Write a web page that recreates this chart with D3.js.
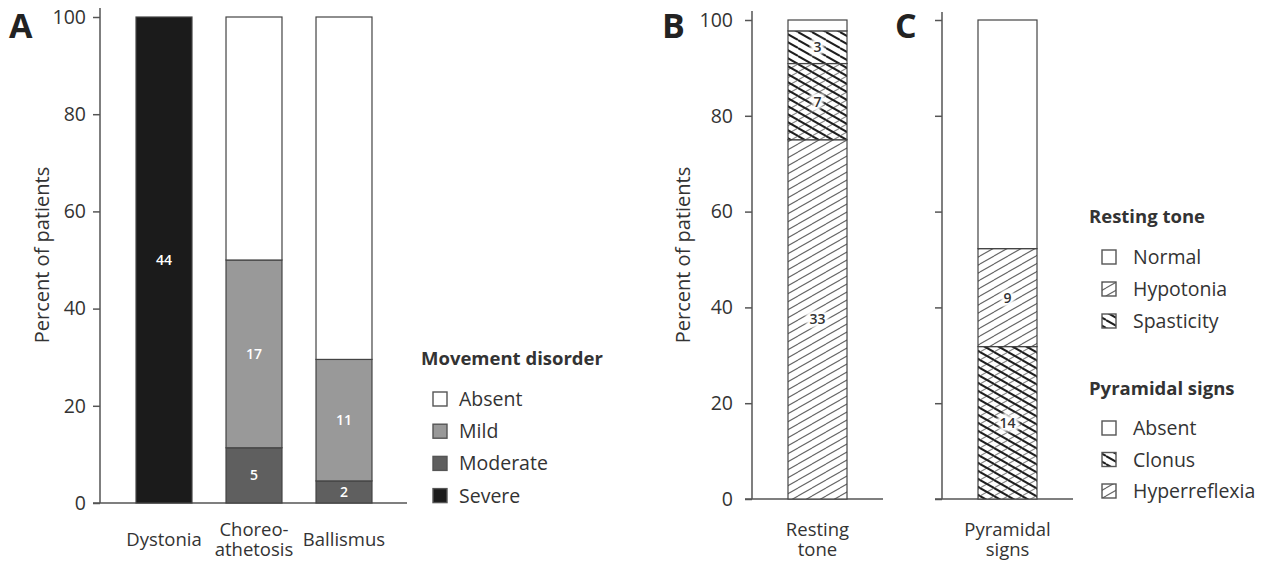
<!DOCTYPE html>
<html><head><meta charset="utf-8">
<script src="https://cdn.jsdelivr.net/npm/d3@7"></script>
<style>
body{margin:0;background:#fff;}
text{font-family:"Open Sans",sans-serif;fill:#333;}
</style></head>
<body><svg id="c" width="1275" height="565"></svg>
<script>
// ---- data ----
const totalPatients = 44;
const movementCategories = ["Dystonia", "Choreo-\nathetosis", "Ballismus"];
const movementLevels = ["Severe", "Moderate", "Mild", "Absent"];
const severeCounts   = [44, 0, 0];
const moderateCounts = [0, 5, 2];
const mildCounts     = [0, 17, 11];
const absentCounts   = [0, 22, 31];
const movementLegend = ["Absent", "Mild", "Moderate", "Severe"];

const restingCategory = ["Resting\ntone"];
const restingSegments = ["Hypotonia", "Mixed", "Spasticity", "Normal"];
const restingCounts   = [33, 7, 3, 1];
const restingLegend = ["Normal", "Hypotonia", "Spasticity"];

const pyramidalCategory = ["Pyramidal\nsigns"];
const pyramidalSegments = ["Clonus", "Hyperreflexia", "Absent"];
const pyramidalCounts   = [14, 9, 21];
const pyramidalLegend = ["Absent", "Clonus", "Hyperreflexia"];

const yTicks = [0, 20, 40, 60, 80, 100];

// ---- drawing ----
const svg = d3.select("#c");
const defs = svg.append("defs");
function hatchPattern(id, specs){
  const W = 14, H = 8;
  const p = defs.append("pattern").attr("id", id).attr("patternUnits","userSpaceOnUse")
    .attr("width", W).attr("height", H);
  p.append("rect").attr("width",W).attr("height",H).attr("fill","#fff");
  specs.forEach(s=>{
    for(let k=-2;k<=2;k++){
      const ln = p.append("line").attr("stroke",s.color).attr("stroke-width",s.w);
      if(s.dir>0) ln.attr("x1",0).attr("y1",H + k*H).attr("x2",W).attr("y2",k*H);
      else ln.attr("x1",0).attr("y1",k*H).attr("x2",W).attr("y2",H + k*H);
    }
  });
}
hatchPattern("hypo", [{dir:1,color:"#666",w:1.1}]);
hatchPattern("spas", [{dir:-1,color:"#1e1e1e",w:2}]);
hatchPattern("cross", [{dir:1,color:"#8a8a8a",w:1.1},{dir:-1,color:"#1e1e1e",w:2}]);

const blur = defs.append("filter").attr("id","halo").attr("x","-50%").attr("y","-50%").attr("width","200%").attr("height","200%");
blur.append("feGaussianBlur").attr("stdDeviation",1.6);

const fillA = {Severe:"#1b1b1b", Moderate:"#5f5f5f", Mild:"#999999", Absent:"#ffffff"};
const fillB = {Hypotonia:"url(#hypo)", Mixed:"url(#cross)", Spasticity:"url(#spas)", Normal:"#fff"};
const fillC = {Clonus:"url(#cross)", Hyperreflexia:"url(#hypo)", Absent:"#fff"};
const legendFill = {Normal:"#fff", Hypotonia:"url(#hypo)", Spasticity:"url(#spas)", Absent:"#fff", Clonus:"url(#spas)", Hyperreflexia:"url(#hypo)",
  Mild:fillA.Mild, Moderate:fillA.Moderate, Severe:fillA.Severe};

function drawAxis(y, x0, x1, showLabels, pad, top){
  const g = svg.append("g").attr("transform",`translate(${x0},0)`);
  const ax = d3.axisLeft(y).tickValues(yTicks).tickSize(7).tickPadding(pad)
    .tickFormat(showLabels ? d3.format("d") : "");
  g.call(ax);
  g.select(".domain").remove();
  g.selectAll(".tick line").attr("stroke","#555").attr("stroke-width",1.5);
  g.selectAll(".tick text").style("font-family","'Open Sans',sans-serif").style("font-size","19.5px").attr("fill","#333");
  g.append("line").attr("x1",0).attr("x2",0).attr("y1",top).attr("y2",y(0)).attr("stroke","#555").attr("stroke-width",1.5);
  svg.append("line").attr("x1",x0-7).attr("x2",x1).attr("y1",y(0)).attr("y2",y(0)).attr("stroke","#555").attr("stroke-width",1.5);
}
function catLabels(x, cats, yc){
  cats.forEach(c=>{
    const lines = c.split("\n");
    const cx = x(c)+x.bandwidth()/2;
    lines.forEach((l,i)=>{
      svg.append("text").attr("text-anchor","middle").style("font-size","18.5px")
        .attr("x",cx).attr("y", yc + (i-(lines.length-1)/2)*19.5 + 6).text(l);
    });
  });
}
function stackBar(x, y, cat, segs, counts, fills, labelStyle){
  let cum = 0;
  const bw = x.bandwidth(), bx = x(cat);
  const data = segs.map((s,i)=>{ const d={seg:s,count:counts[i],y0:cum/totalPatients*100,y1:(cum+counts[i])/totalPatients*100}; cum+=counts[i]; return d;}).filter(d=>d.count>0);
  svg.append("g").selectAll("rect").data(data).join("rect")
    .attr("x",bx).attr("width",bw).attr("y",d=>y(d.y1)).attr("height",d=>y(d.y0)-y(d.y1))
    .attr("fill",d=>fills[d.seg]).attr("stroke","#444").attr("stroke-width",1.2);
  data.filter(d=>labelStyle.show(d)).forEach(d=>{
    const cy = y((d.y0+d.y1)/2)+5;
    if(labelStyle.halo){
      svg.append("text").attr("x",bx+bw/2).attr("y",cy).attr("text-anchor","middle")
        .style("font-size","14px").style("font-weight","600")
        .attr("stroke","#fff").attr("stroke-width",7).style("fill","#fff").attr("filter","url(#halo)").text(d.count);
    }
    svg.append("text").attr("x",bx+bw/2).attr("y",cy).attr("text-anchor","middle")
      .style("font-size","14px").style("font-weight","600").style("fill",labelStyle.color).text(d.count);
  });
}
function legend(x, yTitle, title, items, y0, dy, boxOff, textOff){
  svg.append("text").attr("x",x).attr("y",yTitle).style("font-size","18.5px").style("font-weight","700").text(title);
  items.forEach((it,i)=>{
    const cy = y0 + i*dy;
    svg.append("rect").attr("x",x+boxOff).attr("y",cy-7).attr("width",14).attr("height",14)
      .attr("fill",legendFill[it]).attr("stroke","#555").attr("stroke-width",1.4);
    svg.append("text").attr("x",x+textOff).attr("y",cy+7).style("font-size","19.5px").text(it);
  });
}

// Panel A
const yA = d3.scaleLinear().domain([0,100]).range([503,17]);
const xA = d3.scaleBand().domain(movementCategories).range([101,407]).paddingInner(0.378).paddingOuter(0.389);
drawAxis(yA, 100, 407, true, 7, 8);
movementCategories.forEach((c,i)=>{
  stackBar(xA, yA, c, movementLevels, [severeCounts[i],moderateCounts[i],mildCounts[i],absentCounts[i]], fillA,
    {show:d=>d.seg!=="Absent", color:"#fff", halo:false});
});
catLabels(xA, movementCategories, 540);
svg.append("text").attr("transform","translate(49,255) rotate(-90)").attr("text-anchor","middle").style("font-size","20px").text("Percent of patients");
svg.append("text").attr("x",9).attr("y",38).style("font-size","34px").style("font-weight","700").style("fill","#222").text("A");
legend(421, 365, "Movement disorder", movementLegend, 399, 32.2, 12, 38);

// Panel B
const yB = d3.scaleLinear().domain([0,100]).range([499,20]);
const xB = d3.scaleBand().domain(restingCategory).range([752,883]).paddingInner(0).paddingOuter(0.61);
drawAxis(yB, 752, 883, true, 12, 11);
stackBar(xB, yB, restingCategory[0], restingSegments, restingCounts, fillB, {show:d=>d.seg!=="Normal", color:"#333", halo:true});
catLabels(xB, restingCategory, 540);
svg.append("text").attr("transform","translate(690,255) rotate(-90)").attr("text-anchor","middle").style("font-size","20px").text("Percent of patients");
svg.append("text").attr("x",662).attr("y",38).style("font-size","34px").style("font-weight","700").style("fill","#222").text("B");

// Panel C
const yC = d3.scaleLinear().domain([0,100]).range([499,20]);
const xC = d3.scaleBand().domain(pyramidalCategory).range([942,1073]).paddingInner(0).paddingOuter(0.61);
drawAxis(yC, 942, 1073, false, 8, 12);
stackBar(xC, yC, pyramidalCategory[0], pyramidalSegments, pyramidalCounts, fillC, {show:d=>d.seg!=="Absent", color:"#333", halo:true});
catLabels(xC, pyramidalCategory, 540);
svg.append("text").attr("x",895).attr("y",38).style("font-size","34px").style("font-weight","700").style("fill","#222").text("C");

legend(1089, 223, "Resting tone", restingLegend, 257, 32, 13, 44);
legend(1089, 395, "Pyramidal signs", pyramidalLegend, 428, 31.5, 13, 44);
</script></body></html>
